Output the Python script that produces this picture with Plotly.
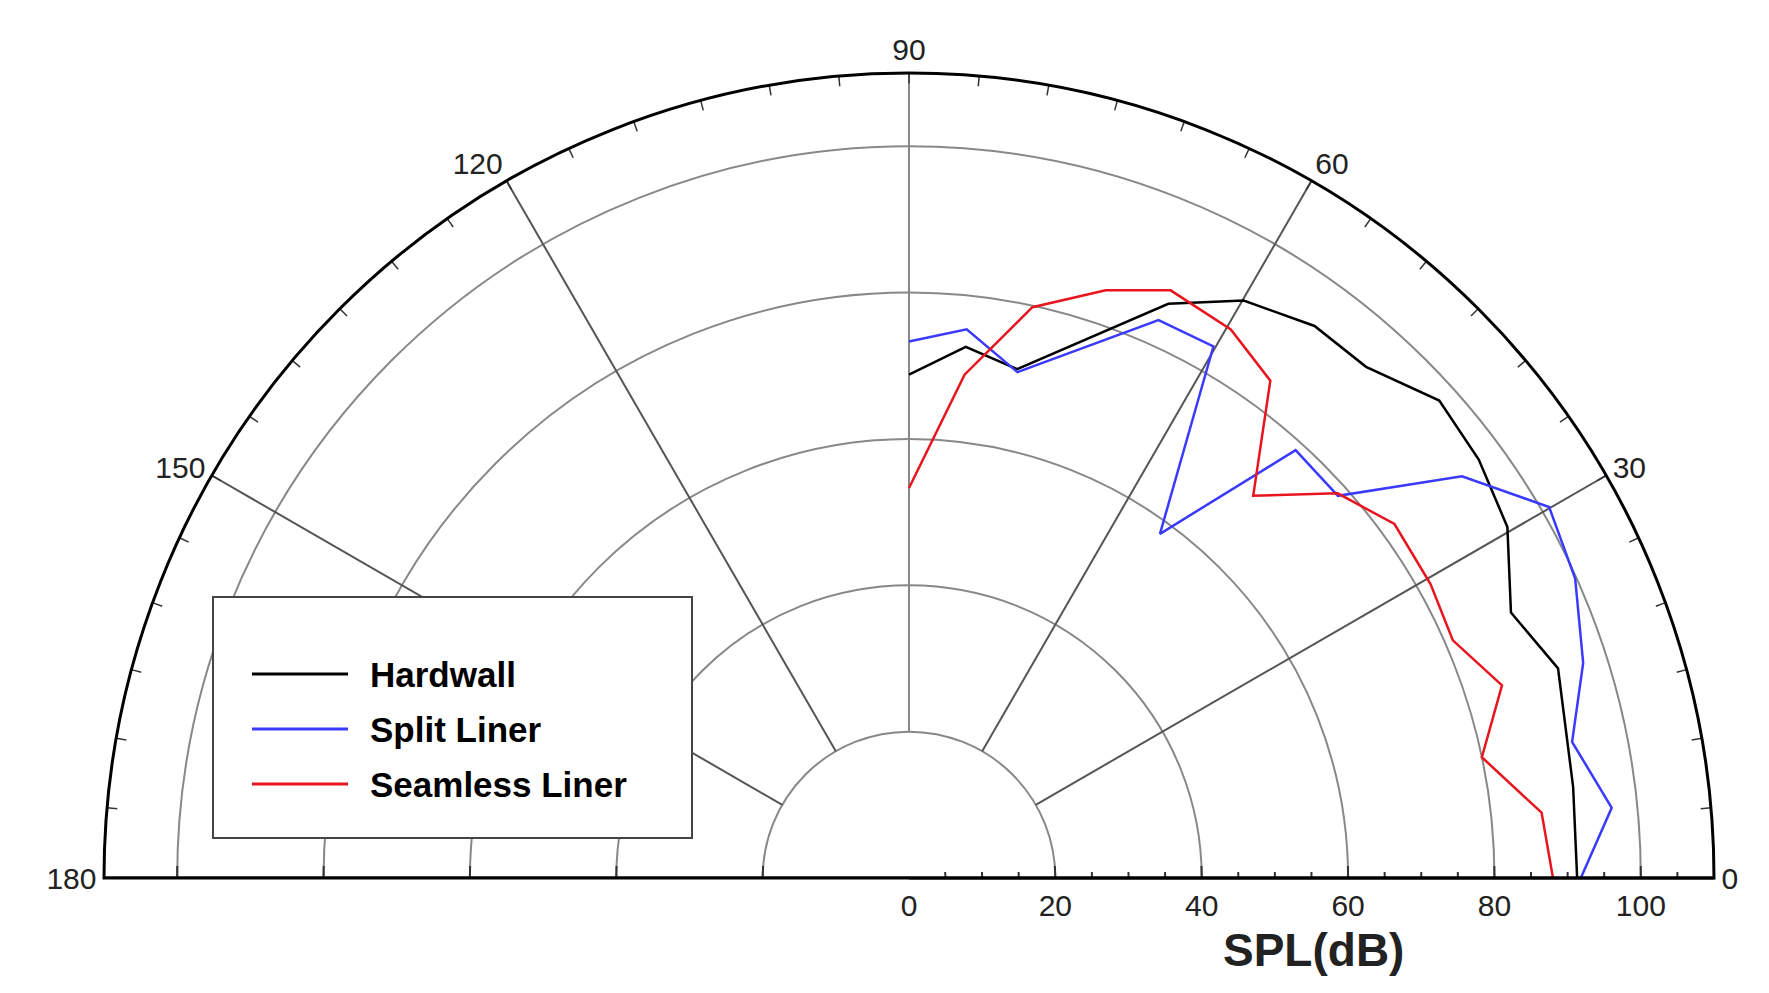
import numpy as np
import plotly.graph_objects as go

hw_theta = [90, 83.9, 78, 65.7, 59.9, 53.7, 48.2, 42, 36.3, 30.4, 23.8, 17.9, 7.8, 0]
hw_r = [68.8, 73, 71.1, 86.1, 91.2, 93.6, 93.7, 97.5, 96.6, 94.8, 89.9, 93.2, 91.6, 91.3]
sp_theta = [90, 84, 77.9, 65.9, 60.2, 53.9, 47.9, 41.7, 36, 30.1, 24.2, 17.7, 11.6, 5.7, 0]
sp_r = [73.3, 75.4, 70.7, 83.5, 83.7, 58.2, 78.8, 78.5, 93.4, 101.1, 99.8, 96.7, 92.5, 96.5, 91.8]
sl_theta = [90, 83.7, 77.8, 71.5, 66, 59.6, 54, 48, 41.9, 36.1, 29.4, 23.6, 18, 11.9, 5.9, 0]
sl_r = [53.3, 69.2, 79.8, 84.7, 87.9, 86.9, 84, 70.3, 78.7, 82.1, 81.8, 81.1, 85.2, 80, 86.9, 88]

names = ["Hardwall", "Split Liner", "Seamless Liner"]
colors = ["black", "#3a3aff", "#e8141e"]

rings = [20, 40, 60, 80, 100]
spokes = [30, 60, 90, 120, 150]
RMAX = 110
PX = 7.33  # px per dB
W, H = 1769, 993

fig = go.Figure()
for a in spokes:
    fig.add_trace(go.Scatterpolar(r=[20, RMAX], theta=[a, a], mode="lines",
                                  line=dict(color="#555" if a != 90 else "#888", width=2),
                                  showlegend=False, hoverinfo="skip"))
fig.add_trace(go.Scatterpolar(r=[0, RMAX], theta=[180, 180], mode="lines",
                              line=dict(color="black", width=3), showlegend=False, hoverinfo="skip"))
tr, tt = [], []
for a in range(0, 181, 5):
    tr += [RMAX, RMAX - 1.4, None]
    tt += [a, a, None]
fig.add_trace(go.Scatterpolar(r=tr, theta=tt, mode="lines", line=dict(color="#333", width=1.5),
                              showlegend=False, hoverinfo="skip"))
tr, tt = [], []
for v in range(5, RMAX, 5):
    h = 12 if v % 20 == 0 else 6
    ang = np.degrees(h / (v * PX))
    tr += [v, v, None]
    tt += [0, ang, None]
for v in rings:
    ang = np.degrees(12 / (v * PX))
    tr += [v, v, None]
    tt += [180, 180 - ang, None]
fig.add_trace(go.Scatterpolar(r=tr, theta=tt, mode="lines", line=dict(color="#333", width=2),
                              showlegend=False, hoverinfo="skip"))

for rr, th, nm, c in zip([hw_r, sp_r, sl_r], [hw_theta, sp_theta, sl_theta], names, colors):
    fig.add_trace(go.Scatterpolar(r=rr, theta=th, mode="lines", name=nm,
                                  line=dict(color=c, width=2.5), showlegend=False))

shapes = [dict(type="rect", xref="paper", yref="paper", x0=205/W, x1=684/W,
               y0=1-830/H, y1=1-589/H, line=dict(color="#444", width=2), fillcolor="white")]
annots = []
for i, (nm, c) in enumerate(zip(names, colors)):
    y = 1 - (666 + 55*i)/H
    shapes.append(dict(type="line", xref="paper", yref="paper", x0=244/W, x1=340/W,
                       y0=y, y1=y, line=dict(color=c, width=3)))
    annots.append(dict(text="<b>%s</b>" % nm, x=360/W, y=y, xref="paper", yref="paper",
                       xanchor="left", yanchor="middle", showarrow=False,
                       font=dict(size=35, color="black")))
annots.append(dict(text="<b>SPL(dB)</b>", x=1305/W, y=1-942/H, xref="paper", yref="paper",
                   xanchor="center", yanchor="middle",
                   showarrow=False, font=dict(size=46, color="#222")))

fig.update_layout(
    width=W, height=H, paper_bgcolor="white", plot_bgcolor="white",
    margin=dict(l=0, r=0, t=0, b=0), showlegend=False,
    font=dict(family="Liberation Sans, Arial", size=30, color="#222"),
    polar=dict(
        domain=dict(x=[96/W, 1706/W], y=[(H-870)/H, (H-65)/H]),
        sector=[0, 180], bgcolor="white",
        radialaxis=dict(range=[0, RMAX], tickvals=[0, 20, 40, 60, 80, 100], showgrid=True,
                        gridcolor="#888", gridwidth=2, showline=True, linecolor="black",
                        linewidth=3, ticks="", tickfont=dict(size=30), angle=0, side="clockwise"),
        angularaxis=dict(tickvals=[0, 30, 60, 90, 120, 150, 180], showgrid=False,
                         showline=True, linecolor="black", linewidth=3, ticks="",
                         tickfont=dict(size=30), direction="counterclockwise", rotation=0),
    ),
    shapes=shapes, annotations=annots,
)
fig.write_html("out.html")
